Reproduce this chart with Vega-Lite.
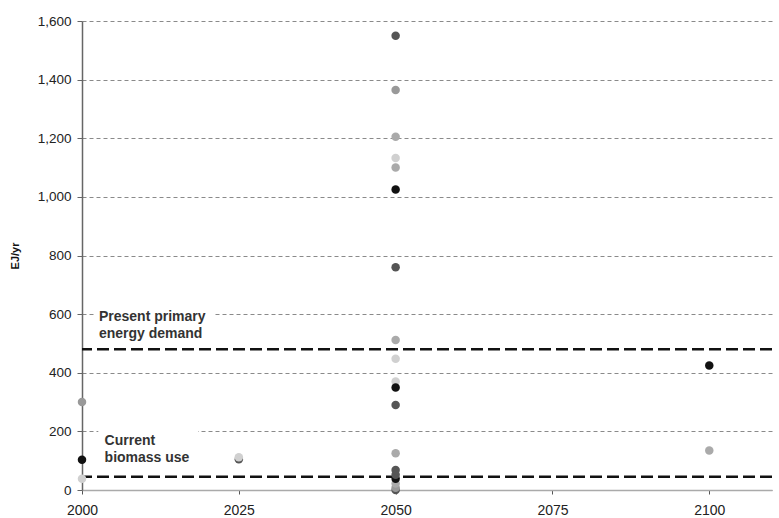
{
  "$schema": "https://vega.github.io/schema/vega-lite/v6.json",
  "width": 690,
  "height": 469,
  "autosize": {"type": "none"},
  "padding": {"left": 82, "top": 21, "right": 7, "bottom": 28},
  "background": "white",
  "config": {
    "view": {"stroke": null},
    "font": "Liberation Sans",
    "axis": {"labelFont": "Liberation Sans", "titleFont": "Liberation Sans"}
  },
  "datasets": {
    "scenarios": [
      {"year": 2000, "ej": 300, "tone": "mid"},
      {"year": 2000, "ej": 103, "tone": "black"},
      {"year": 2000, "ej": 38, "tone": "pale"},
      {"year": 2025, "ej": 105, "tone": "dark"},
      {"year": 2025, "ej": 112, "tone": "pale"},
      {"year": 2050, "ej": 1550, "tone": "dark"},
      {"year": 2050, "ej": 1365, "tone": "mid"},
      {"year": 2050, "ej": 1205, "tone": "light"},
      {"year": 2050, "ej": 1133, "tone": "pale"},
      {"year": 2050, "ej": 1100, "tone": "light"},
      {"year": 2050, "ej": 1025, "tone": "black"},
      {"year": 2050, "ej": 760, "tone": "dark"},
      {"year": 2050, "ej": 512, "tone": "light"},
      {"year": 2050, "ej": 448, "tone": "pale"},
      {"year": 2050, "ej": 370, "tone": "pale"},
      {"year": 2050, "ej": 350, "tone": "black"},
      {"year": 2050, "ej": 290, "tone": "dark"},
      {"year": 2050, "ej": 125, "tone": "light"},
      {"year": 2050, "ej": 0, "tone": "dark"},
      {"year": 2050, "ej": 8, "tone": "mid"},
      {"year": 2050, "ej": 22, "tone": "light"},
      {"year": 2050, "ej": 38, "tone": "black"},
      {"year": 2050, "ej": 52, "tone": "dark"},
      {"year": 2050, "ej": 68, "tone": "dark"},
      {"year": 2100, "ej": 425, "tone": "black"},
      {"year": 2100, "ej": 135, "tone": "light"}
    ],
    "references": [
      {"ej": 480, "name": "Present primary energy demand"},
      {"ej": 45, "name": "Current biomass use"}
    ],
    "labelBoxes": [
      {"year": 2002.2, "year2": 2021, "ej": 632, "ej2": 500},
      {"year": 2002.6, "year2": 2018.5, "ej": 215, "ej2": 90}
    ],
    "labels": [
      {"year": 2002.7, "ej": 615, "text": ["Present primary", "energy demand"]},
      {"year": 2003.6, "ej": 192, "text": ["Current", "biomass use"]}
    ]
  },
  "layer": [
    {
      "data": {"name": "scenarios"},
      "mark": {"type": "point", "opacity": 0},
      "encoding": {
        "x": {
          "field": "year",
          "type": "quantitative",
          "scale": {"domain": [2000, 2110], "nice": false, "zero": false},
          "axis": {
            "values": [2000, 2025, 2050, 2075, 2100],
            "format": "d",
            "title": null,
            "grid": false,
            "labelFlush": false,
            "domainColor": "#aaaaaa",
            "domainWidth": 1.5,
            "tickColor": "#555555",
            "tickSize": 4,
            "labelFontSize": 14,
            "labelColor": "#222222",
            "labelPadding": 9
          }
        },
        "y": {
          "field": "ej",
          "type": "quantitative",
          "scale": {"domain": [0, 1600], "nice": false},
          "axis": {
            "values": [0, 200, 400, 600, 800, 1000, 1200, 1400, 1600],
            "format": ",d",
            "title": "EJ/yr",
            "titleFontSize": 11,
            "titleFontWeight": "bold",
            "titleColor": "#111111",
            "titlePadding": 17,
            "grid": true,
            "gridColor": "#8a8a8a",
            "gridDash": [4, 3],
            "gridWidth": 1,
            "domainColor": "#666666",
            "domainWidth": 1.5,
            "tickColor": "#666666",
            "tickSize": 5,
            "labelFontSize": 13.5,
            "labelColor": "#222222",
            "labelPadding": 6
          }
        }
      }
    },
    {
      "data": {"name": "labelBoxes"},
      "mark": {"type": "rect", "fill": "white", "stroke": null},
      "encoding": {
        "x": {"field": "year", "type": "quantitative"},
        "x2": {"field": "year2"},
        "y": {"field": "ej", "type": "quantitative"},
        "y2": {"field": "ej2"}
      }
    },
    {
      "data": {"name": "references"},
      "mark": {"type": "rule", "color": "#111111", "strokeWidth": 2.5, "strokeDash": [12, 5]},
      "encoding": {
        "y": {"field": "ej", "type": "quantitative"}
      }
    },
    {
      "data": {"name": "scenarios"},
      "mark": {"type": "circle", "size": 72, "opacity": 1},
      "encoding": {
        "x": {"field": "year", "type": "quantitative"},
        "y": {"field": "ej", "type": "quantitative"},
        "color": {
          "field": "tone",
          "type": "nominal",
          "scale": {
            "domain": ["black", "dark", "mid", "light", "pale"],
            "range": ["#111111", "#555555", "#999999", "#aaaaaa", "#d0d0d0"]
          },
          "legend": null
        }
      }
    },
    {
      "data": {"name": "labels"},
      "mark": {
        "type": "text",
        "align": "left",
        "baseline": "top",
        "fontSize": 14,
        "fontWeight": "bold",
        "color": "#333333",
        "lineHeight": 17
      },
      "encoding": {
        "x": {"field": "year", "type": "quantitative"},
        "y": {"field": "ej", "type": "quantitative"},
        "text": {"field": "text"}
      }
    }
  ]
}
